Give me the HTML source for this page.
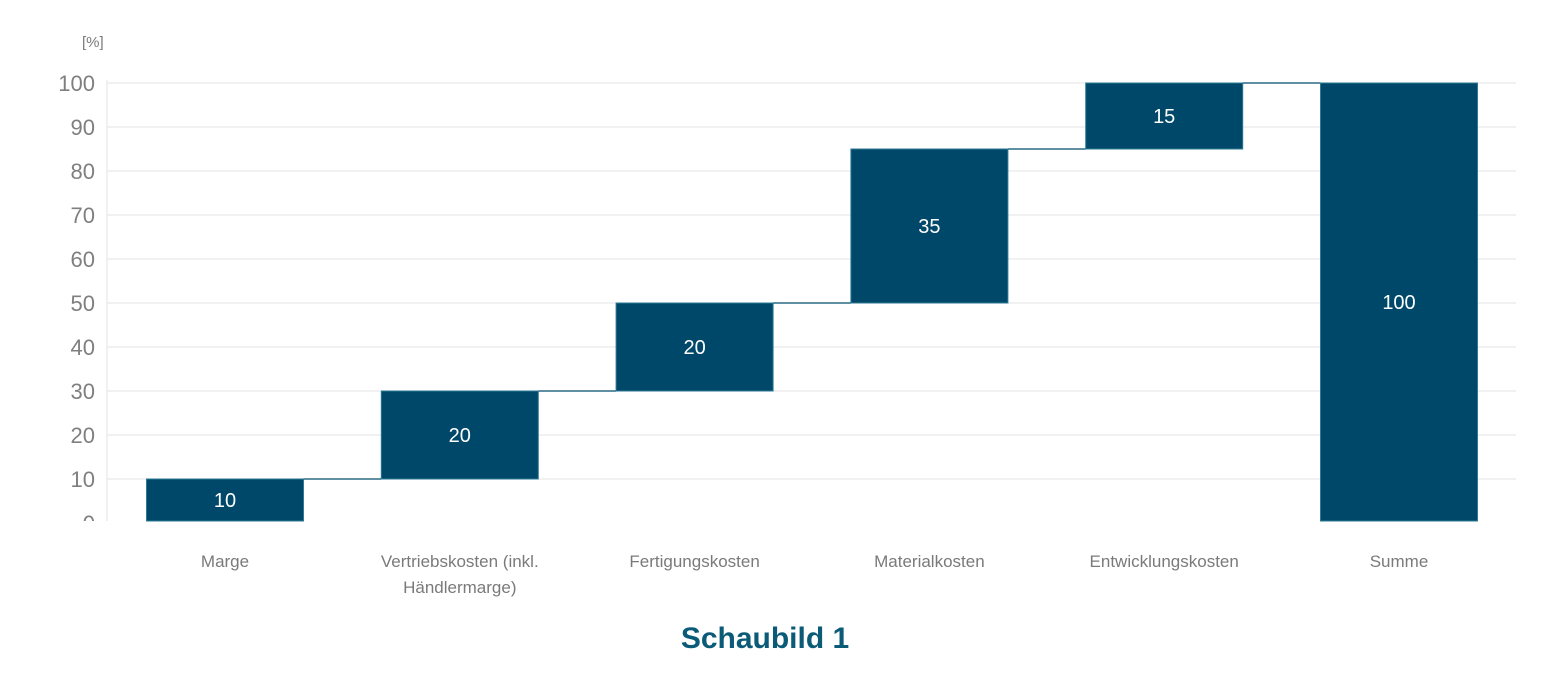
<!DOCTYPE html>
<html><head><meta charset="utf-8"><style>
body{margin:0;background:#fff;width:1541px;height:682px;overflow:hidden;font-family:"Liberation Sans",sans-serif}
</style></head><body>
<svg id="c" width="1541" height="682">
<defs><clipPath id="clip"><rect x="0" y="0" width="1541" height="521"/></clipPath></defs>
<text x="82" y="47" font-size="15" fill="#7a7a7a">[%]</text>
<g id="grid" clip-path="url(#clip)"></g>
<g id="bars"></g>
<text x="765" y="648" text-anchor="middle" font-size="30" font-weight="bold" fill="#0a5a78">Schaubild 1</text>
</svg>
<script>
const categories=["Marge","Vertriebskosten (inkl.|Händlermarge)","Fertigungskosten","Materialkosten","Entwicklungskosten","Summe"];
const values=[10,20,20,35,15,100];
const isTotal=[false,false,false,false,false,true];
const yTicks=[0,10,20,30,40,50,60,70,80,90,100];
const ns="http://www.w3.org/2000/svg";
const y=v=>523-v*4.4;
const xc=i=>225+i*234.8;
const bw=157;
function mk(t,a,p){const e=document.createElementNS(ns,t);for(const k in a)e.setAttribute(k,a[k]);p.appendChild(e);return e;}
const grid=document.getElementById('grid'),bars=document.getElementById('bars');
yTicks.forEach(v=>{
 const l=mk('line',{x1:107,x2:1516,y1:y(v),y2:y(v),stroke:'#e3e3e3','stroke-width':1},grid);
 
 
 const t=mk('text',{x:95,y:y(v)+8,'text-anchor':'end','font-size':22,fill:'#7f7f7f'},grid);
 t.textContent=v;
 
 
});
const ax=mk('line',{x1:107,x2:107,y1:80,y2:521,stroke:'#e3e3e3'},grid);


let cum=0;
values.forEach((v,i)=>{
 const base=isTotal[i]?0:cum, top=base+v;
 const r=mk('rect',{x:xc(i)-bw/2,y:y(top),width:bw,height:Math.min(y(base),521)-y(top),fill:'#00486a',stroke:'#2c7a95','stroke-width':1},bars);
 
 
 const mid=(Math.min(y(base),521)+y(top))/2;
 const t=mk('text',{x:xc(i),y:mid+7,'text-anchor':'middle','font-size':20,fill:'#fff'},bars);
 t.textContent=v;
 
 
 if(i<values.length-1){
  const c=mk('line',{x1:xc(i)+bw/2,x2:xc(i+1)-bw/2,y1:y(top),y2:y(top),stroke:'#2c6a85','stroke-width':1.5},bars);
  
  
 }
 if(!isTotal[i])cum=top;
 categories[i].split('|').forEach((s,j)=>{
  const lt=mk('text',{x:xc(i),y:567+j*26,'text-anchor':'middle','font-size':17,fill:'#7a7a7a'},bars);
  lt.textContent=s;
  
  
 });
});
</script>
</body></html>
